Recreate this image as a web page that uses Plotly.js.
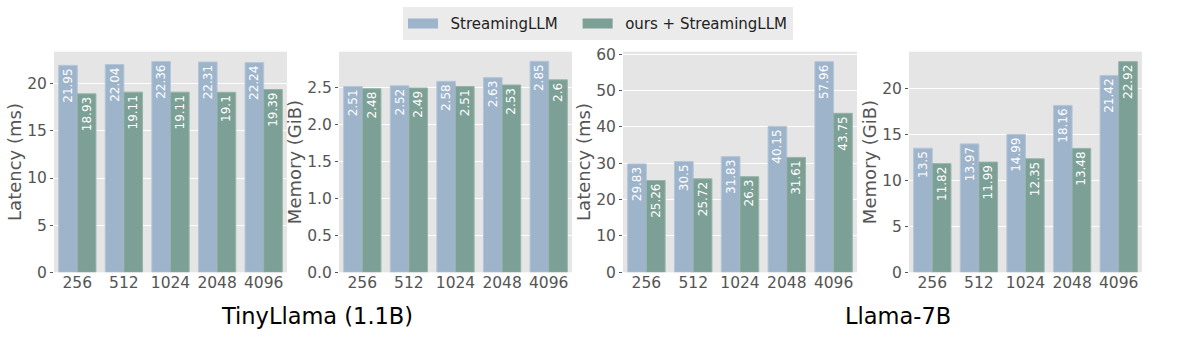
<!DOCTYPE html>
<html>
<head>
<meta charset="utf-8">
<script src="https://cdn.plot.ly/plotly-3.0.1.min.js"></script>
<style>
  html, body { margin: 0; padding: 0; background: #fff; }
  #plot { width: 1196px; height: 341px; }
</style>
</head>
<body>
<div id="plot"></div>
<script>
// context lengths on the x axis
let lengths = ["256", "512", "1024", "2048", "4096"];

// TinyLlama (1.1B)
let tinyLatencyBase = [21.95, 22.04, 22.36, 22.31, 22.24];
let tinyLatencyOurs = [18.93, 19.11, 19.11, 19.1, 19.39];
let tinyMemoryBase = [2.51, 2.52, 2.58, 2.63, 2.85];
let tinyMemoryOurs = [2.48, 2.49, 2.51, 2.53, 2.6];

// Llama-7B
let llamaLatencyBase = [29.83, 30.5, 31.83, 40.15, 57.96];
let llamaLatencyOurs = [25.26, 25.72, 26.3, 31.61, 43.75];
let llamaMemoryBase = [13.5, 13.97, 14.99, 18.16, 21.42];
let llamaMemoryOurs = [11.82, 11.99, 12.35, 13.48, 22.92];

let seriesNames = ["StreamingLLM", "ours + StreamingLLM"];
let colors = ["#9db4cb", "#7ca095"];
let edges = ["#b4c6d8", "#97b3aa"];

let font = "DejaVu Sans, Verdana, sans-serif";

function barTrace(y, i, axis) {
  return {
    x: lengths,
    y: y,
    type: "bar",
    name: seriesNames[i],
    xaxis: "x" + axis,
    yaxis: "y" + axis,
    marker: { color: colors[i], line: { color: edges[i], width: 1 } },
    text: y.map(String),
    textposition: "inside",
    insidetextanchor: "end",
    textangle: -90,
    textfont: { color: "#ffffff", size: 12, family: font },
    constraintext: "none",
    showlegend: false,
    hoverinfo: "x+y"
  };
}

// legend only traces (drawn as wide patches), spaces widen the gaps
function legendTrace(i, tail) {
  return {
    x: [null],
    y: [null],
    type: "scatter",
    mode: "lines",
    name: "\u2002" + seriesNames[i] + tail,
    line: { color: colors[i], width: 10 },
    xaxis: "x",
    yaxis: "y",
    showlegend: true
  };
}

let data = [
  barTrace(tinyLatencyBase, 0, ""), barTrace(tinyLatencyOurs, 1, ""),
  barTrace(tinyMemoryBase, 0, "2"), barTrace(tinyMemoryOurs, 1, "2"),
  barTrace(llamaLatencyBase, 0, "3"), barTrace(llamaLatencyOurs, 1, "3"),
  barTrace(llamaMemoryBase, 0, "4"), barTrace(llamaMemoryOurs, 1, "4"),
  legendTrace(0, "\u2003"), legendTrace(1, "")
];

let W = 1196, H = 341;
let yDom = [(H - 272.3) / H, (H - 51.7) / H];

function xAxis(x0, x1, anchor) {
  return {
    domain: [x0 / W, x1 / W],
    anchor: anchor,
    type: "category",
    categoryarray: lengths,
    range: [-0.5, 4.5],
    showgrid: false,
    zeroline: false,
    ticks: "",
    ticklabelstandoff: -1,
    tickfont: { size: 15.5, color: "#555555", family: font },
    fixedrange: true
  };
}

function yAxis(title, range, dtick, anchor, fmt) {
  return {
    domain: yDom,
    anchor: anchor,
    range: range,
    dtick: dtick,
    tickformat: fmt,
    showgrid: true,
    gridcolor: "#ffffff",
    gridwidth: 1,
    zeroline: false,
    ticks: "outside",
    ticklen: 3,
    tickcolor: "#555555",
    tickfont: { size: 15.5, color: "#555555", family: font },
    title: { text: title, font: { size: 18, color: "#555555", family: font }, standoff: 0 },
    fixedrange: true
  };
}

let layout = {
  width: W,
  height: H,
  margin: { l: 0, r: 0, t: 0, b: 0 },
  paper_bgcolor: "#ffffff",
  plot_bgcolor: "#e5e5e5",
  font: { family: font, color: "#555555" },
  barmode: "group",
  bargap: 0.2,
  bargroupgap: 0,
  xaxis: xAxis(54, 287, "y"),
  yaxis: yAxis("Latency (ms)", [0, 23.4], 5, "x", ""),
  xaxis2: xAxis(339, 572, "y2"),
  yaxis2: yAxis("Memory (GiB)", [0, 2.98], 0.5, "x2", ".1f"),
  xaxis3: xAxis(623, 857, "y3"),
  yaxis3: yAxis("Latency (ms)", [0, 60.7], 10, "x3", ""),
  xaxis4: xAxis(909, 1142, "y4"),
  yaxis4: yAxis("Memory (GiB)", [0, 24.0], 5, "x4", ""),
  legend: {
    orientation: "h",
    x: 0.5,
    xanchor: "center",
    y: 1 - 7.3 / H,
    yanchor: "top",
    bgcolor: "#ebebeb",
    font: { size: 15, color: "#222222", family: font },
    itemwidth: 30,
    entrywidth: 0
  },
  annotations: [
    {
      text: "TinyLlama (1.1B)",
      xref: "paper", yref: "paper",
      x: 316.7 / W, y: (H - 316) / H,
      xanchor: "center", yanchor: "middle",
      showarrow: false,
      font: { size: 22.5, color: "#000000", family: font }
    },
    {
      text: "Llama-7B",
      xref: "paper", yref: "paper",
      x: 898 / W, y: (H - 316) / H,
      xanchor: "center", yanchor: "middle",
      showarrow: false,
      font: { size: 22.5, color: "#000000", family: font }
    }
  ]
};

Plotly.newPlot("plot", data, layout, { displayModeBar: false, staticPlot: true });
</script>
</body>
</html>
